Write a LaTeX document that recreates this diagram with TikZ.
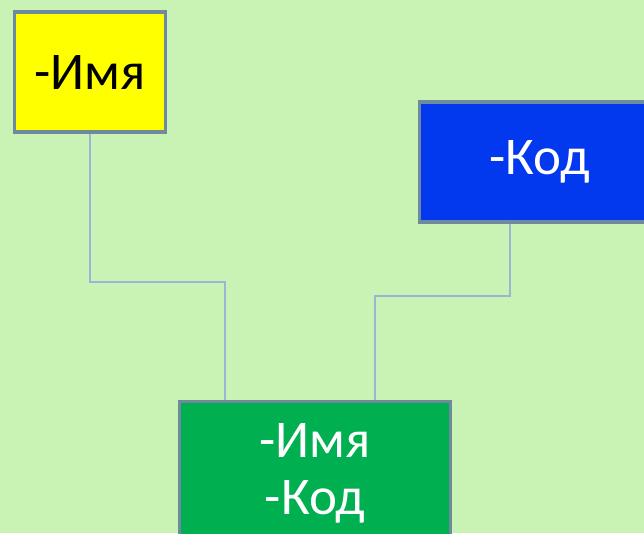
\documentclass[tikz,border=0pt]{standalone}
\usepackage{fontspec}
\setmainfont{Carlito}
\definecolor{bg}{HTML}{C8F3B4}
\definecolor{bordc}{HTML}{6F8A9C}
\definecolor{connc}{HTML}{9DB5D5}
\definecolor{yel}{HTML}{FFFF00}
\definecolor{blu}{HTML}{0339EE}
\definecolor{grn}{HTML}{00AF50}
\tikzset{
  entbox/.style={draw=bordc, line width=3.2pt, inner sep=0pt, align=center,
    font=\fontsize{53}{57}\selectfont},
  conn/.style={draw=connc, line width=1.6pt}
}
\begin{document}
\begin{tikzpicture}[x=1pt,y=-1pt]
\fill[bg] (0,0) rectangle (644,533);
\useasboundingbox (0,0) rectangle (644,533);
\begin{scope}
\clip (0,0) rectangle (644,533);
\node[entbox, fill=yel, text=black, minimum width=150.5pt, minimum height=120pt] (yellow) at (90,72) {-Имя};
\node[entbox, fill=blu, text=white, minimum width=240pt, minimum height=120pt] (blue) at (539.5,162) {-Код};
\coordinate (gc) at (315,470);
\node[entbox, fill=grn, minimum width=271pt, minimum height=137pt] (green) at (gc) {};
\node[text=white, align=center, inner sep=0pt, font=\fontsize{53}{57}\selectfont] (gtext) at ([yshift=-3pt]gc) {-Имя\\-Код};
\coordinate (j1) at (225,282);
\coordinate (b1) at (510,0);
\coordinate (j2) at (375,296);
\draw[conn] (yellow.south) |- (j1) -- (j1 |- green.north);
\draw[conn] (b1 |- blue.south) |- (j2) -- (j2 |- green.north);
\end{scope}
\end{tikzpicture}
\end{document}
